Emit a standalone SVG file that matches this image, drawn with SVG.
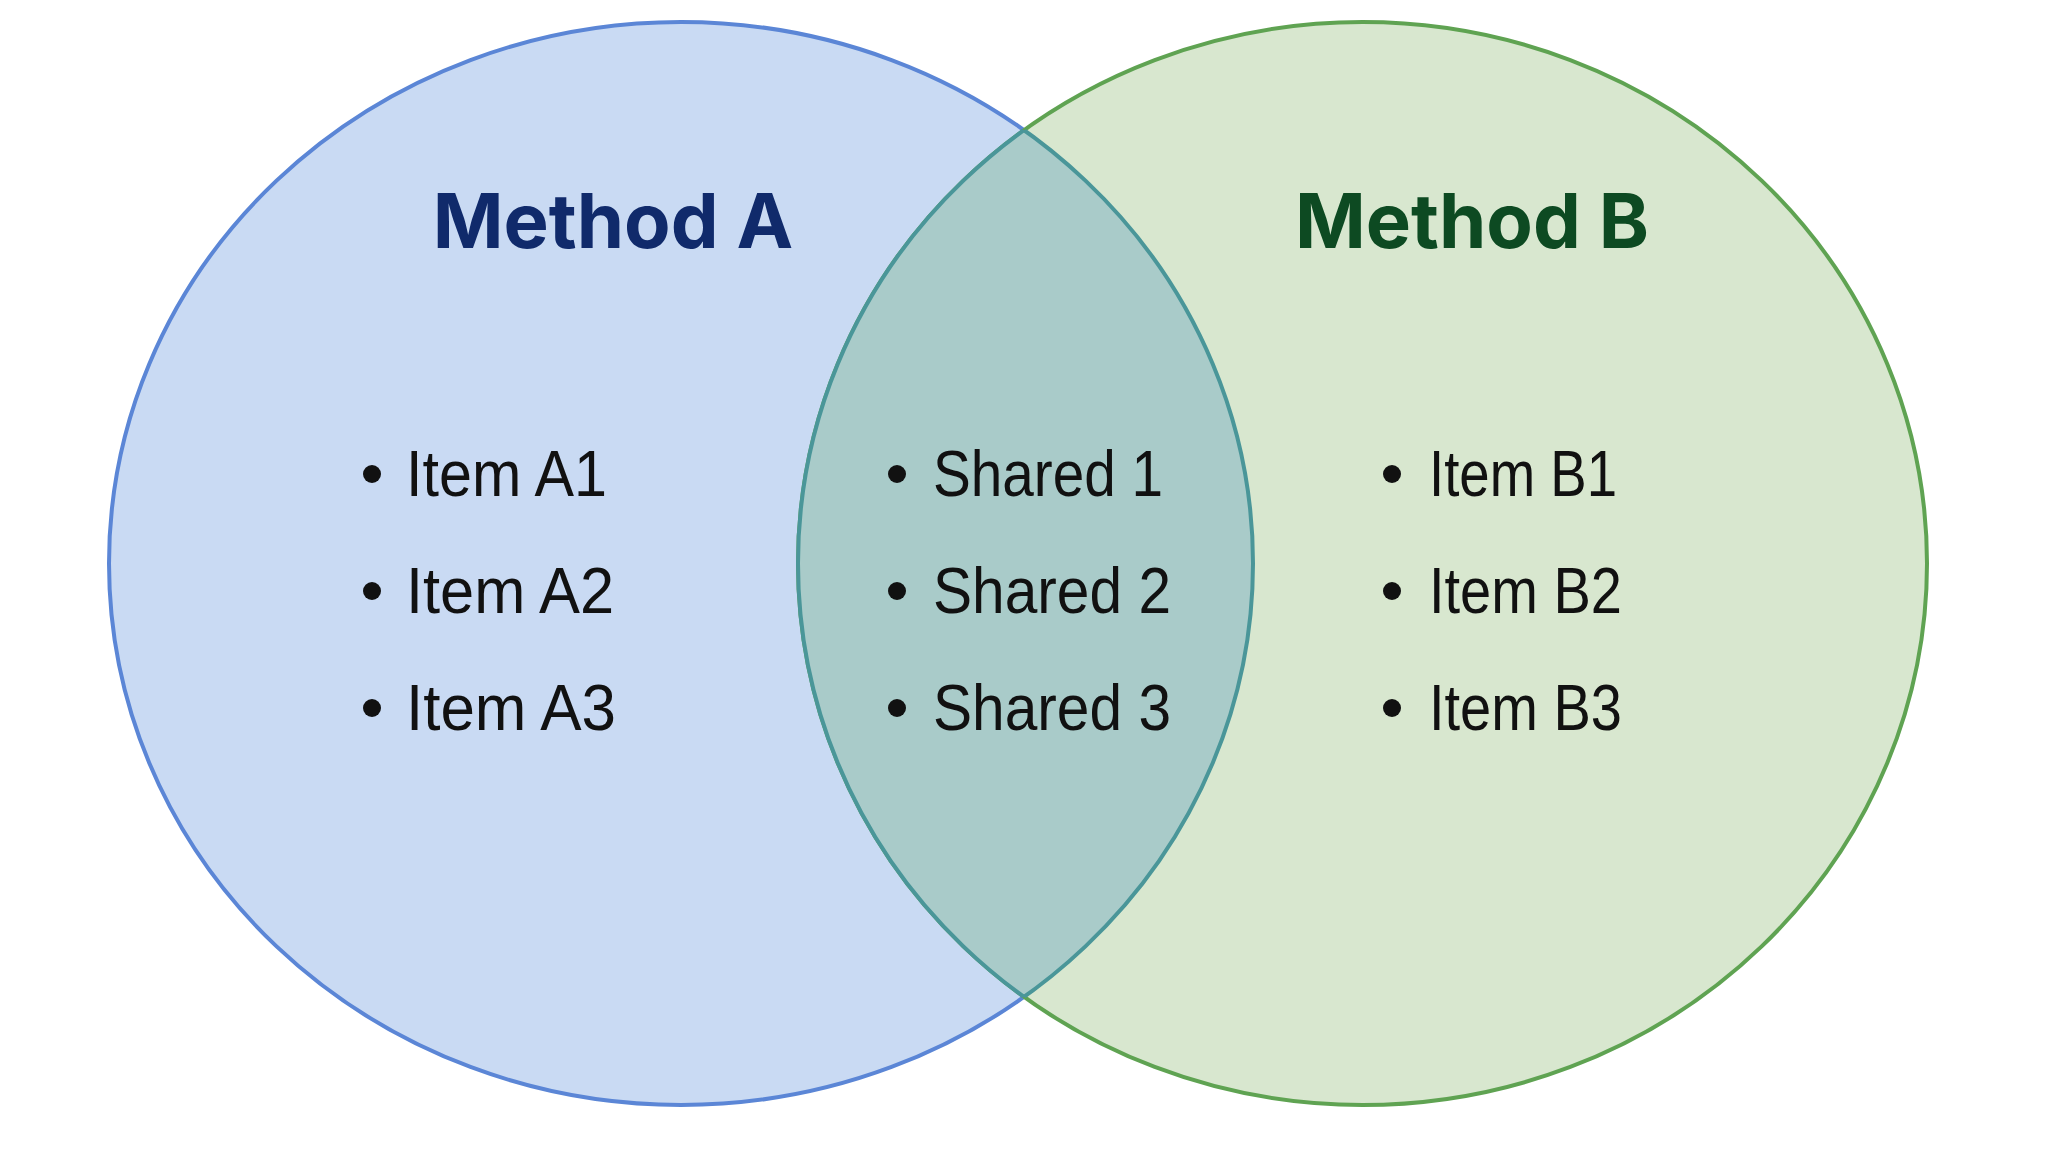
<svg xmlns="http://www.w3.org/2000/svg" width="2048" height="1152" viewBox="0 0 2048 1152">
<style>
.title{font-family:Inter,"Liberation Sans",sans-serif;font-weight:700;font-size:76px;text-anchor:middle}
.item{font-family:"Liberation Sans",Arial,sans-serif;font-size:64px;fill:#111}
.dot{fill:#111}
</style>
<defs>
<clipPath id="clipA"><ellipse cx="681" cy="563.5" rx="572" ry="541.5"/></clipPath>
<clipPath id="clipB"><ellipse cx="1362.5" cy="563.5" rx="564.5" ry="541.5"/></clipPath>
</defs>
<rect width="2048" height="1152" fill="#ffffff"/>
<g id="circleA">
<ellipse cx="681" cy="563.5" rx="572" ry="541.5" fill="#c9daf3" stroke="#5b86d6" stroke-width="4"/>
</g>
<g id="circleB">
<ellipse cx="1362.5" cy="563.5" rx="564.5" ry="541.5" fill="#d8e7cf" stroke="#5fa352" stroke-width="4"/>
</g>
<g id="overlap">
<ellipse cx="1362.5" cy="563.5" rx="564.5" ry="541.5" fill="#a9cbc9" stroke="#4a9699" stroke-width="4" clip-path="url(#clipA)"/>
<ellipse cx="681" cy="563.5" rx="572" ry="541.5" fill="none" stroke="#4a9699" stroke-width="4" clip-path="url(#clipB)"/>
</g>
<g id="labelA">
<text class="title" x="613" y="248" fill="#102a6b">Method A</text>
</g>
<g id="labelB">
<text class="title" x="1472" y="248" fill="#0d4a22">Method B</text>
</g>
<g id="itemsA">
<circle class="dot" cx="372" cy="474" r="9"/><text class="item" x="406" y="496" textLength="201" lengthAdjust="spacingAndGlyphs">Item A1</text>
<circle class="dot" cx="372" cy="591" r="9"/><text class="item" x="406" y="613" textLength="208" lengthAdjust="spacingAndGlyphs">Item A2</text>
<circle class="dot" cx="372" cy="708" r="9"/><text class="item" x="406" y="730" textLength="210" lengthAdjust="spacingAndGlyphs">Item A3</text>
</g>
<g id="itemsShared">
<circle class="dot" cx="897" cy="474" r="9"/><text class="item" x="933" y="496" textLength="230" lengthAdjust="spacingAndGlyphs">Shared 1</text>
<circle class="dot" cx="897" cy="591" r="9"/><text class="item" x="933" y="613" textLength="238" lengthAdjust="spacingAndGlyphs">Shared 2</text>
<circle class="dot" cx="897" cy="708" r="9"/><text class="item" x="933" y="730" textLength="238" lengthAdjust="spacingAndGlyphs">Shared 3</text>
</g>
<g id="itemsB">
<circle class="dot" cx="1392" cy="474" r="9"/><text class="item" x="1429" y="496" textLength="188" lengthAdjust="spacingAndGlyphs">Item B1</text>
<circle class="dot" cx="1392" cy="591" r="9"/><text class="item" x="1429" y="613" textLength="193" lengthAdjust="spacingAndGlyphs">Item B2</text>
<circle class="dot" cx="1392" cy="708" r="9"/><text class="item" x="1429" y="730" textLength="193" lengthAdjust="spacingAndGlyphs">Item B3</text>
</g>
<g id="connectors"/>
</svg>
